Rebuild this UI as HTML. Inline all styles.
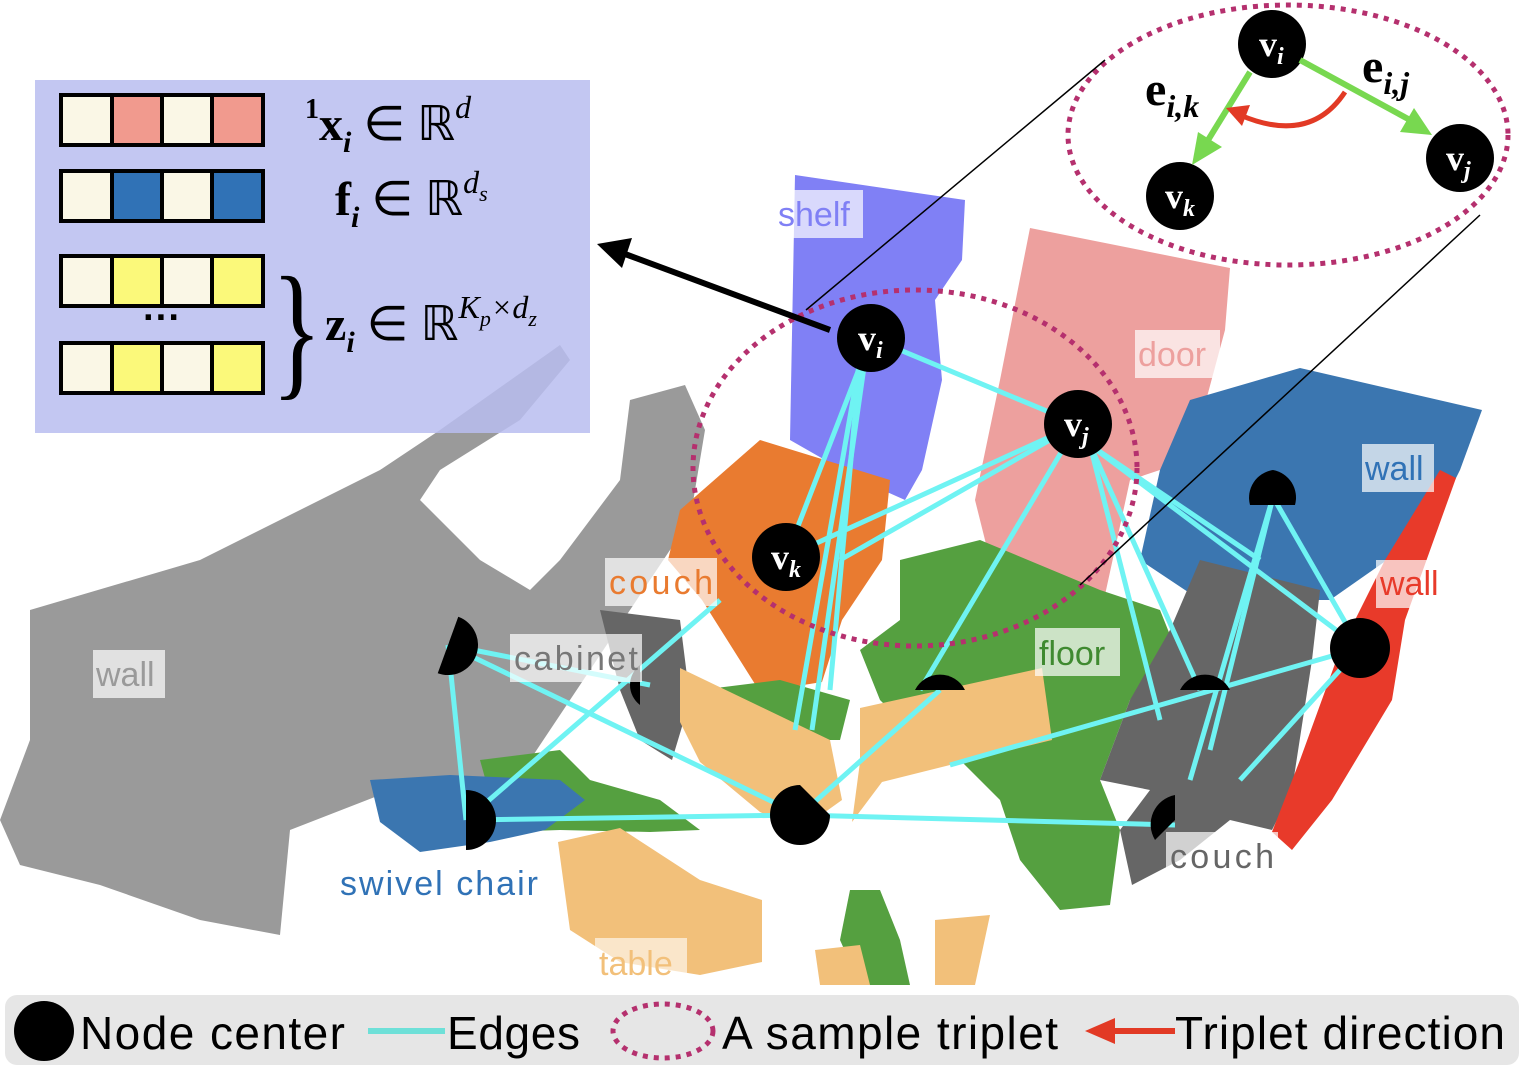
<!DOCTYPE html>
<html><head><meta charset="utf-8"><style>
html,body{margin:0;padding:0;background:#fff;}
svg{display:block;}
.lb{font-family:"Liberation Sans",sans-serif;font-size:34px;}
.m{font-family:"Liberation Serif",serif;font-weight:bold;}
</style></head><body>
<svg width="1527" height="1071" viewBox="0 0 1527 1071" xmlns="http://www.w3.org/2000/svg">
<polygon fill="#9a9a9a" points="30,610 200,560 380,470 440,430 560,345 570,360 520,420 440,470 420,500 480,560 530,590 560,560 620,480 630,400 685,385 705,430 690,520 630,610 570,700 530,760 460,790 380,795 290,830 280,935 200,920 100,885 20,865 0,820 30,740"/>
<polygon fill="#8080f5" points="795,175 965,200 962,260 935,300 942,380 922,470 905,500 860,480 790,440"/>
<polygon fill="#eda09e" points="1030,228 1230,268 1225,330 1190,460 1130,480 1105,595 990,560 975,500 1000,380"/>
<polygon fill="#3b76b0" points="1190,400 1300,368 1482,410 1460,470 1430,530 1330,600 1200,600 1140,560 1160,470"/>
<polygon fill="#55a040" points="900,560 980,540 1100,590 1160,610 1180,660 1130,700 1100,780 1120,830 1110,905 1060,910 1020,860 1000,800 960,760 920,740 880,700 860,650 900,620"/>
<polygon fill="#666666" points="1200,560 1320,590 1312,660 1292,790 1272,830 1230,820 1180,860 1132,885 1120,830 1150,790 1100,780 1130,700 1170,630"/>
<polygon fill="#e83a2a" points="1440,470 1456,478 1405,620 1392,700 1332,800 1292,850 1272,832 1300,760 1340,650 1385,560"/>
<polygon fill="#e97b30" points="680,510 760,440 890,480 882,560 842,620 822,682 760,692 702,600 668,560"/>
<polygon fill="#666666" points="600,610 680,620 690,700 672,760 640,740 620,690"/>
<polygon fill="#55a040" points="480,760 560,750 590,780 660,800 700,830 650,832 560,830 500,832"/>
<polygon fill="#55a040" points="700,690 780,680 850,700 840,740 760,740"/>
<polygon fill="#55a040" points="850,890 880,890 900,940 910,985 860,985 840,940"/>
<polygon fill="#3b76b0" points="370,780 450,775 560,780 585,800 545,830 490,842 420,852 380,822"/>
<polygon fill="#f2c07a" points="680,668 830,740 842,800 800,830 760,812 700,762 680,722"/>
<polygon fill="#f2c07a" points="860,708 1042,668 1052,740 962,762 882,782 852,822 860,762"/>
<polygon fill="#f2c07a" points="558,842 620,828 700,880 762,900 762,962 700,975 620,962 570,930"/>
<polygon fill="#f2c07a" points="815,950 860,945 870,985 820,985"/>
<polygon fill="#f2c07a" points="935,920 990,915 975,985 935,985"/>
<rect x="35" y="80" width="555" height="353" fill="#b8bdf0" fill-opacity="0.85"/>
<g stroke="#000" stroke-width="4">
<rect x="61" y="95" width="202" height="50" fill="#faf7e6"/><rect x="112" y="95" width="50" height="50" fill="#f19a8e"/><rect x="212" y="95" width="51" height="50" fill="#f19a8e"/>
<rect x="61" y="171" width="202" height="50" fill="#faf7e6"/><rect x="112" y="171" width="50" height="50" fill="#3072b6"/><rect x="212" y="171" width="51" height="50" fill="#3072b6"/>
<rect x="61" y="256" width="202" height="50" fill="#faf7e6"/><rect x="112" y="256" width="50" height="50" fill="#fbf97a"/><rect x="212" y="256" width="51" height="50" fill="#fbf97a"/>
<rect x="61" y="343" width="202" height="50" fill="#faf7e6"/><rect x="112" y="343" width="50" height="50" fill="#fbf97a"/><rect x="212" y="343" width="51" height="50" fill="#fbf97a"/>
</g>
<text x="162" y="330" font-size="38" font-weight="bold" font-family="Liberation Sans" text-anchor="middle">···</text>
<text x="272" y="380" font-size="150" font-family="Liberation Serif" transform="scale(0.7,1) translate(116,0)">}</text>
<text x="305" y="140" font-size="48" class="m"><tspan font-size="28" dy="-22">1</tspan><tspan dy="22">x</tspan><tspan font-size="30" font-style="italic" dy="12">i</tspan><tspan dy="-12" font-weight="normal"> ∈ ℝ</tspan><tspan font-size="32" font-style="italic" font-weight="normal" dy="-22">d</tspan></text>
<text x="335" y="215" font-size="48" class="m">f<tspan font-size="30" font-style="italic" dy="12">i</tspan><tspan dy="-12" font-weight="normal"> ∈ ℝ</tspan><tspan font-size="32" font-style="italic" font-weight="normal" dy="-22">d<tspan font-size="22" dy="8">s</tspan></tspan></text>
<text x="325" y="340" font-size="48" class="m">z<tspan font-size="30" font-style="italic" dy="12">i</tspan><tspan dy="-12" font-weight="normal"> ∈ ℝ</tspan><tspan font-size="32" font-style="italic" font-weight="normal" dy="-22">K<tspan font-size="22" dy="8">p</tspan><tspan dy="-8">×d</tspan><tspan font-size="22" dy="8">z</tspan></tspan></text>
<g stroke="#6ff3f3" stroke-width="5" fill="none">
<line x1="871" y1="338" x2="1078" y2="424"/><line x1="871" y1="338" x2="786" y2="557"/>
<line x1="860" y1="360" x2="795" y2="730"/><line x1="865" y1="360" x2="812" y2="730"/><line x1="860" y1="360" x2="830" y2="690"/>
<line x1="1078" y1="424" x2="786" y2="557"/><line x1="1078" y1="424" x2="920" y2="690"/><line x1="1078" y1="424" x2="840" y2="560"/>
<line x1="1090" y1="445" x2="1160" y2="720"/><line x1="1090" y1="445" x2="1200" y2="690"/><line x1="1090" y1="445" x2="1360" y2="648"/><line x1="1090" y1="445" x2="1260" y2="560"/>
<line x1="1273" y1="497" x2="1360" y2="648"/><line x1="1273" y1="497" x2="1210" y2="750"/><line x1="1273" y1="497" x2="1190" y2="780"/>
<line x1="1360" y1="648" x2="950" y2="765"/><line x1="1360" y1="648" x2="1240" y2="780"/>
<line x1="448" y1="645" x2="466" y2="820"/><line x1="448" y1="645" x2="800" y2="815"/><line x1="448" y1="645" x2="650" y2="685"/>
<line x1="466" y1="820" x2="800" y2="815"/><line x1="466" y1="820" x2="720" y2="600"/>
<line x1="800" y1="815" x2="1175" y2="825"/><line x1="800" y1="815" x2="940" y2="690"/>
</g>
<g fill="#000">
<path d="M448,615 A30,30 0 0,1 448,675 Z" transform="rotate(20 448 645)"/>
<path d="M466,790 A30,30 0 0,1 466,850 Z"/>
<path d="M800,785 A30,30 0 0,0 800,845 A30,30 0 0,0 830,815 Z"/>
<path d="M915,690 A28,28 0 0,1 965,690 Z"/>
<path d="M1273,470 A28,28 0 0,0 1250,505 L1295,505 A28,28 0 0,0 1273,470Z"/>
<circle cx="1360" cy="648" r="30"/>
<path d="M1180,690 A28,28 0 0,1 1230,690 Z"/>
<path d="M1175,795 A30,30 0 0,0 1155,840 L1175,820 Z"/>
<path d="M640,665 A25,25 0 0,0 640,705 Z"/>
</g>
<g class="lb">
<rect x="775" y="190" width="88" height="48" fill="#fff" opacity="0.7"/><text x="778" y="226" fill="#8080f5">shelf</text>
<rect x="1135" y="330" width="85" height="48" fill="#fff" opacity="0.7"/><text x="1138" y="366" fill="#eda09e">door</text>
<rect x="1362" y="444" width="72" height="48" fill="#fff" opacity="0.7"/><text x="1365" y="480" fill="#3072b6">wall</text>
<rect x="1376" y="560" width="72" height="48" fill="#fff" opacity="0.7"/><text x="1380" y="595" fill="#e83a2a">wall</text>
<rect x="605" y="558" width="112" height="48" fill="#fff" opacity="0.7"/><text x="609" y="594" fill="#e97b30" textLength="104">couch</text>
<rect x="510" y="634" width="132" height="48" fill="#fff" opacity="0.7"/><text x="514" y="670" fill="#777" textLength="124">cabinet</text>
<rect x="93" y="650" width="72" height="48" fill="#fff" opacity="0.7"/><text x="96" y="686" fill="#9a9a9a">wall</text>
<rect x="1035" y="628" width="85" height="48" fill="#fff" opacity="0.7"/><text x="1039" y="665" fill="#3f8a30">floor</text>
<rect x="1166" y="832" width="112" height="46" fill="#fff" opacity="0.7"/><text x="1170" y="868" fill="#666" textLength="104">couch</text>
<text x="340" y="895" fill="#3072b6" textLength="198">swivel chair</text>
<rect x="595" y="938" width="92" height="46" fill="#fff" opacity="0.6"/><text x="599" y="975" fill="#f2c07a">table</text>
</g>
<ellipse cx="915" cy="468" rx="222" ry="178" fill="none" stroke="#b5306e" stroke-width="5" stroke-dasharray="5,6"/>
<ellipse cx="1288" cy="135" rx="220" ry="130" fill="none" stroke="#b5306e" stroke-width="5" stroke-dasharray="5,6"/>
<line x1="806" y1="310" x2="1105" y2="60" stroke="#000" stroke-width="1.5"/>
<line x1="1080" y1="585" x2="1480" y2="215" stroke="#000" stroke-width="1.5"/>
<line x1="830" y1="330" x2="625" y2="254" stroke="#000" stroke-width="6"/>
<polygon points="597,244 632,238 622,268" fill="#000"/>
<g fill="#000">
<circle cx="871" cy="338" r="34"/><circle cx="1078" cy="424" r="34"/><circle cx="786" cy="557" r="34"/>
<circle cx="1272" cy="44" r="34"/><circle cx="1180" cy="196" r="34"/><circle cx="1460" cy="158" r="34"/>
</g>
<g fill="#fff" class="m" font-size="36">
<text x="858" y="350">v<tspan font-size="24" font-style="italic" dy="8">i</tspan></text>
<text x="1064" y="436">v<tspan font-size="24" font-style="italic" dy="8">j</tspan></text>
<text x="771" y="569">v<tspan font-size="24" font-style="italic" dy="8">k</tspan></text>
<text x="1259" y="56">v<tspan font-size="24" font-style="italic" dy="8">i</tspan></text>
<text x="1165" y="208">v<tspan font-size="24" font-style="italic" dy="8">k</tspan></text>
<text x="1446" y="170">v<tspan font-size="24" font-style="italic" dy="8">j</tspan></text>
</g>
<g stroke="#78d850" stroke-width="6">
<line x1="1250" y1="72" x2="1205" y2="145"/><line x1="1300" y1="60" x2="1410" y2="120"/>
</g>
<polygon points="1192,165 1198,132 1222,147" fill="#78d850"/>
<polygon points="1432,135 1400,132 1414,108" fill="#78d850"/>
<path d="M1345,92 Q1310,145 1240,115" stroke="#e23a25" stroke-width="5" fill="none"/>
<polygon points="1226,108 1250,105 1242,126" fill="#e23a25"/>
<text x="1145" y="105" font-size="48" class="m">e<tspan font-size="32" font-style="italic" dy="12">i,k</tspan></text>
<text x="1362" y="82" font-size="48" class="m">e<tspan font-size="32" font-style="italic" dy="12">i,j</tspan></text>
<rect x="5" y="995" width="1514" height="70" rx="12" fill="#e6e6e6"/>
<circle cx="44" cy="1031" r="30" fill="#000"/>
<line x1="368" y1="1031" x2="445" y2="1031" stroke="#6ee0d8" stroke-width="6"/>
<ellipse cx="663" cy="1031" rx="50" ry="27" fill="none" stroke="#b5306e" stroke-width="5" stroke-dasharray="5,6"/>
<line x1="1110" y1="1031" x2="1175" y2="1031" stroke="#e23a25" stroke-width="6"/>
<polygon points="1085,1031 1115,1018 1115,1044" fill="#e23a25"/>
<g font-family="Liberation Sans,sans-serif" font-size="46">
<text x="80" y="1049" textLength="265">Node center</text>
<text x="447" y="1049" textLength="133">Edges</text>
<text x="722" y="1049" textLength="336">A sample triplet</text>
<text x="1175" y="1049" textLength="330">Triplet direction</text>
</g>
</svg>
</body></html>
